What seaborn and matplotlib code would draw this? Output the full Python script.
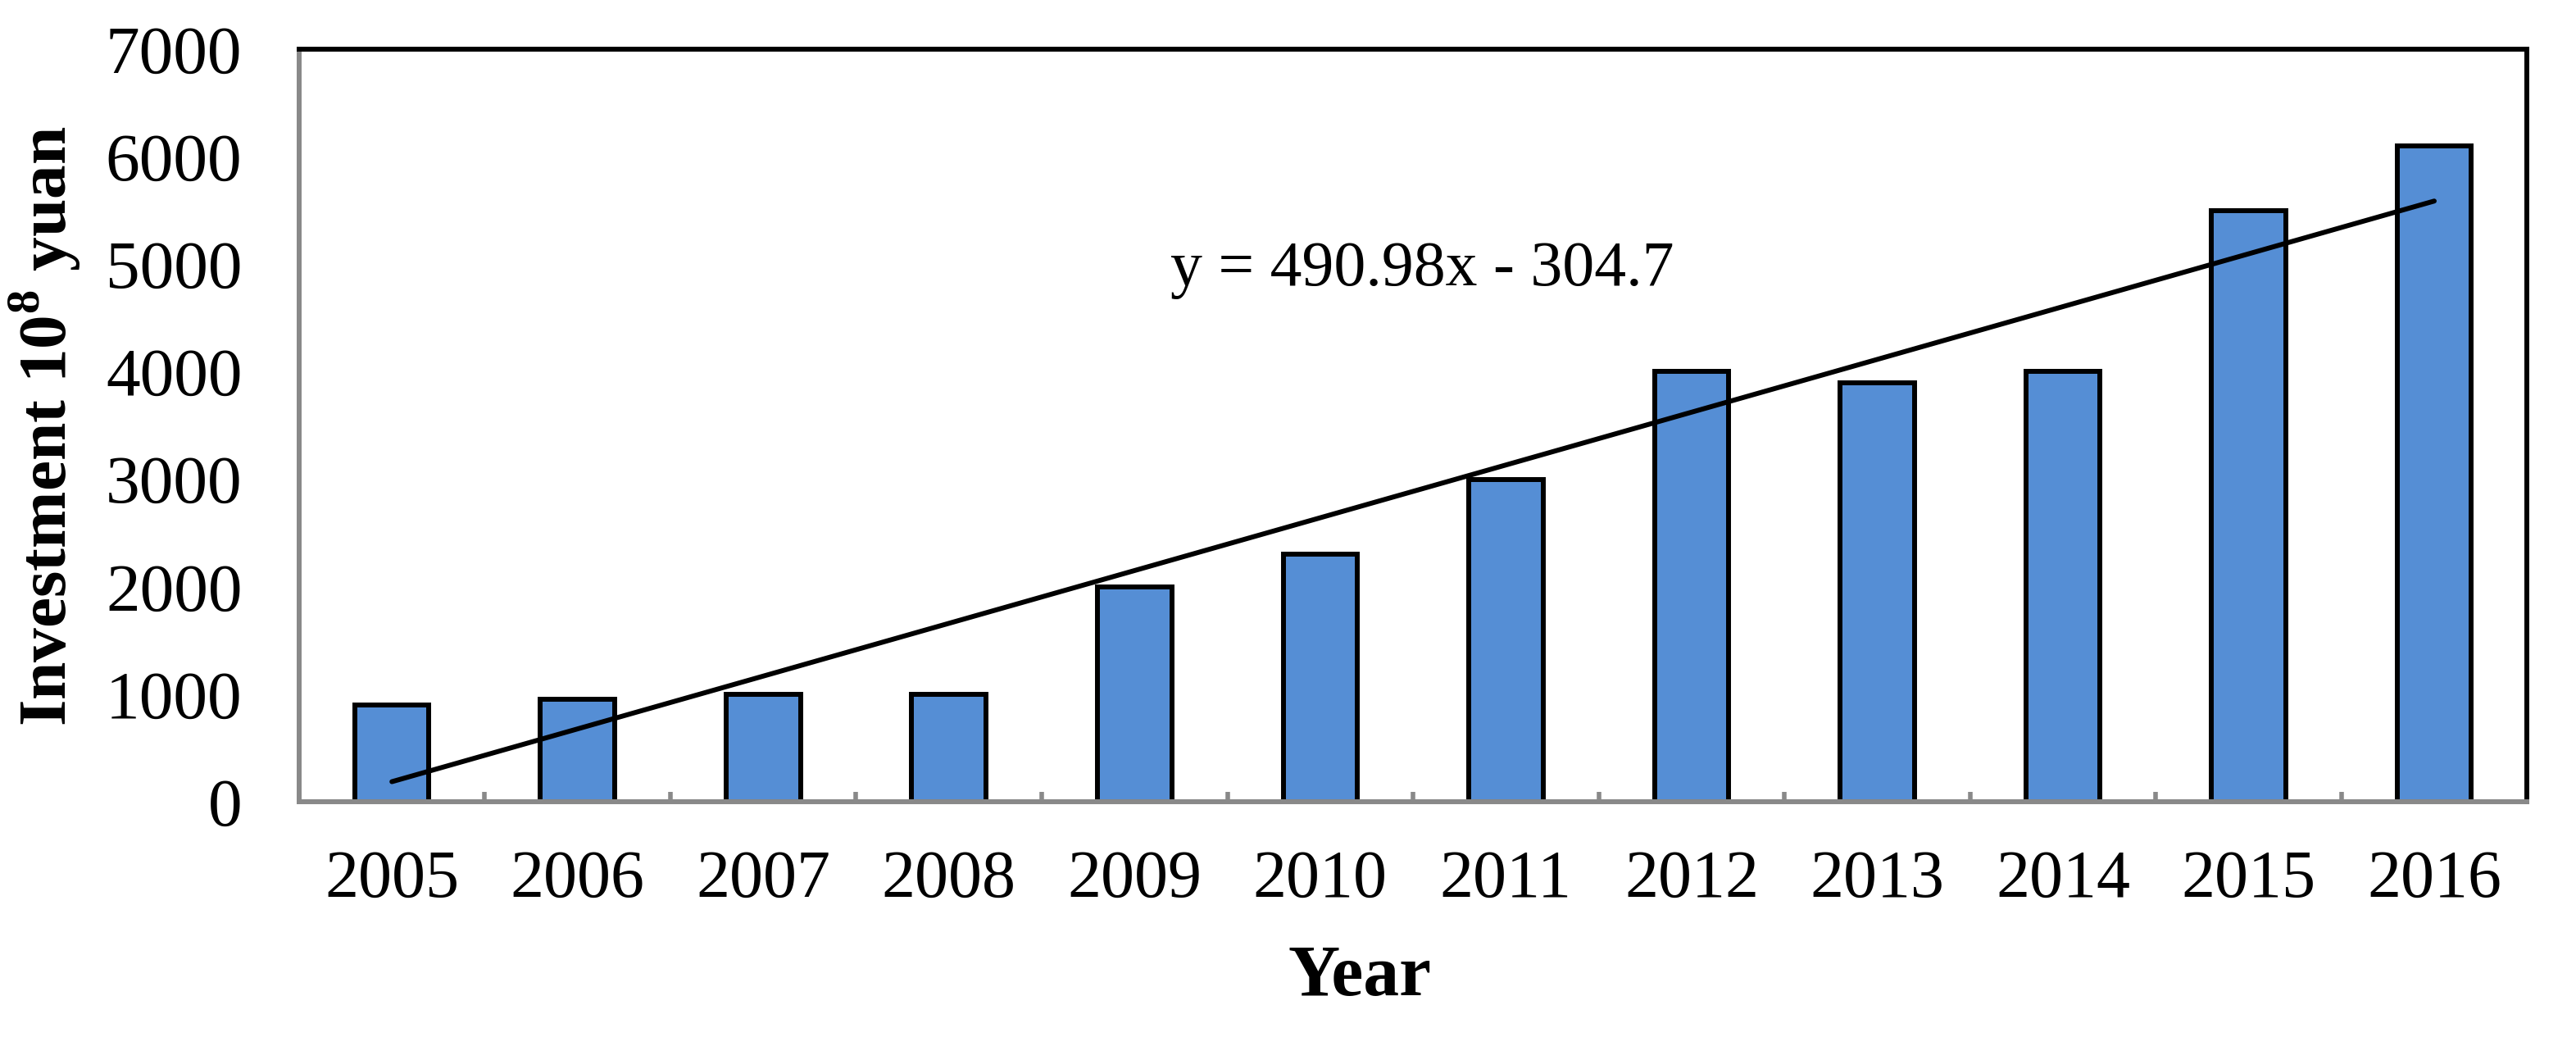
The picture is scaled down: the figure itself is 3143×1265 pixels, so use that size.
import matplotlib
matplotlib.use("Agg")
import matplotlib.pyplot as plt
import numpy as np
import seaborn as sns
from matplotlib.ticker import FixedLocator

# Dữ liệu
years = ["2005", "2006", "2007", "2008", "2009", "2010",
         "2011", "2012", "2013", "2014", "2015", "2016"]
investment = [900, 950, 1000, 1000, 2000, 2300, 3000, 4000, 3900, 4000, 5500, 6100]
y_ticks = [0, 1000, 2000, 3000, 4000, 5000, 6000, 7000]

# Đường xu hướng tuyến tính (theo phương trình trên hình)
slope = 490.98
intercept = -304.7
equation_label = "y = 490.98x - 304.7"

sns.set_theme(style="white")
plt.rcParams["font.family"] = ["Liberation Serif", "DejaVu Serif"]
plt.rcParams["mathtext.fontset"] = "custom"
plt.rcParams["mathtext.rm"] = "Liberation Serif"
plt.rcParams["mathtext.bf"] = "Liberation Serif:bold"
plt.rcParams["text.color"] = "black"
plt.rcParams["axes.labelcolor"] = "black"

fig = plt.figure(figsize=(31.43, 12.65), dpi=100)
ax = fig.add_axes([0.1161, 0.2269, 0.981 - 0.1161, 0.9526 - 0.2269])

sns.barplot(x=years, y=investment, color="#558ED5", saturation=1,
            edgecolor="black", linewidth=4.3, width=0.4, ax=ax)

# Vẽ đường xu hướng
xs = np.arange(len(years))
trend = slope * (xs + 1) + intercept
ax.plot(xs, trend, color="black", lw=4.3, solid_capstyle="round")

ax.text(5.55, 4950, equation_label, ha="center", va="center", fontsize=56,
        color="black")

ax.set_xlim(-0.5, len(years) - 0.5)
ax.set_ylim(0, 7000)
ax.set_yticks(y_ticks)
ax.set_yticklabels([str(t) for t in y_ticks])
ax.xaxis.set_minor_locator(FixedLocator(np.arange(-0.5, len(years), 1.0)))

ax.tick_params(axis="y", which="major", direction="in", length=9, width=4,
               color="#898989", labelcolor="black", labelsize=60, pad=50)
ax.tick_params(axis="x", which="major", length=0, labelcolor="black",
               labelsize=59, pad=42)
ax.tick_params(axis="x", which="minor", direction="in", length=9, width=4,
               color="#898989", bottom=True)

for side in ["left", "bottom"]:
    ax.spines[side].set_color("#898989")
    ax.spines[side].set_linewidth(4.3)
for side in ["top", "right"]:
    ax.spines[side].set_color("black")
    ax.spines[side].set_linewidth(4.3)
    ax.spines[side].set_visible(True)

ax.set_xlabel("Year", fontsize=63, fontweight="bold", color="black")
ax.set_ylabel(r"Investment 10$^{\mathbf{8}}$ yuan", fontsize=60,
              fontweight="bold", color="black")
ax.xaxis.set_label_coords(0.476, -0.19)
ax.yaxis.set_label_coords(-0.097, 0.499)

plt.savefig("out.png", dpi=100)
plt.close()
